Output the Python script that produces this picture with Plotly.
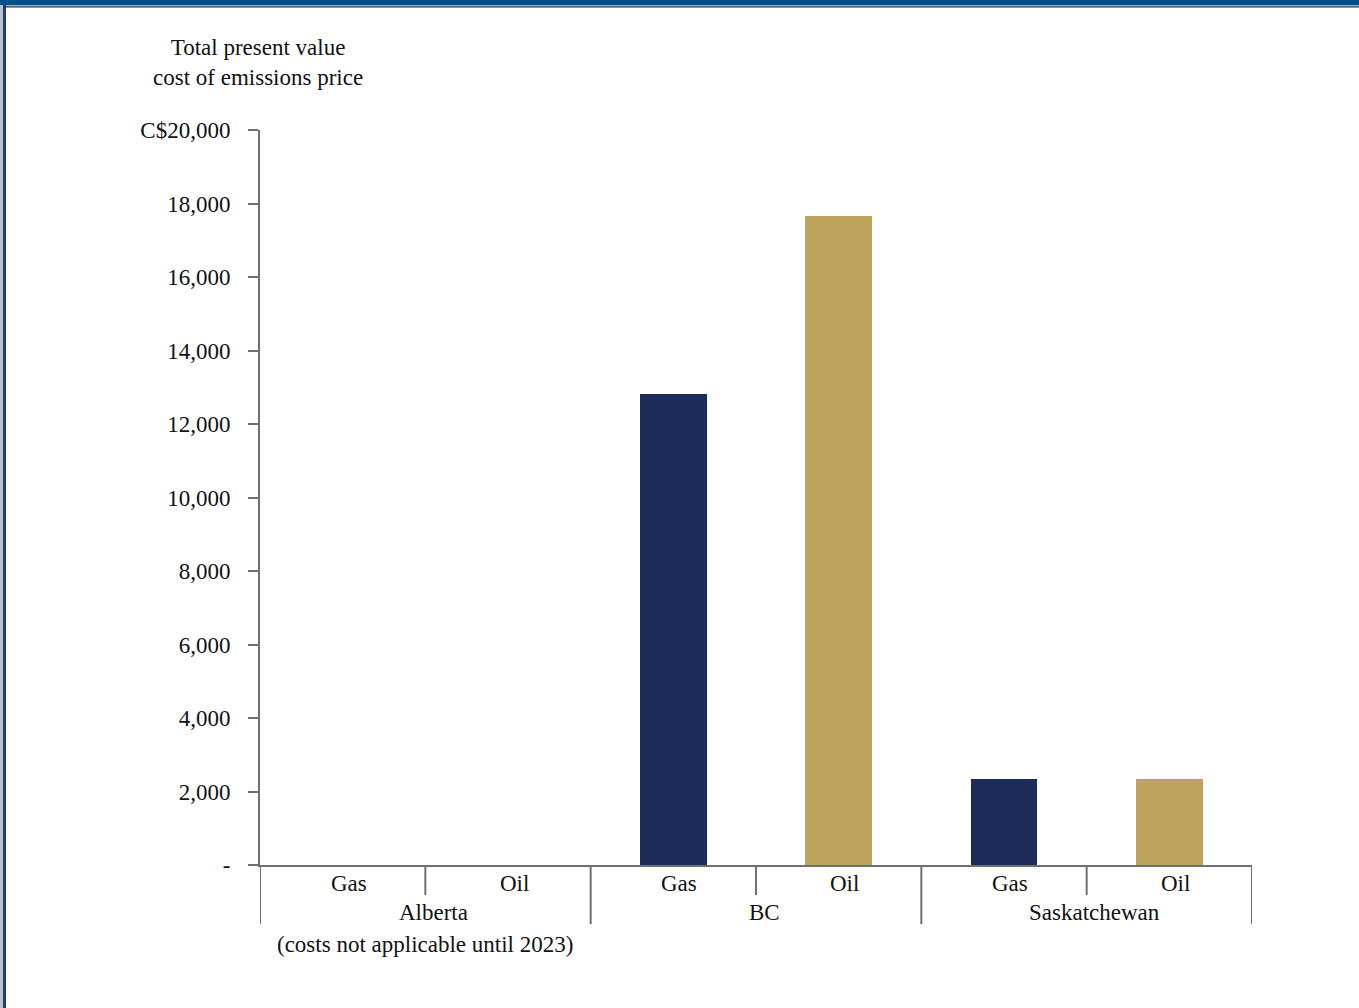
import plotly.graph_objects as go

# Data
provinces = ["Alberta", "BC", "Saskatchewan"]
fuels = ["Gas", "Oil"]
gas_values = [0, 12830, 2340]
oil_values = [0, 17660, 2340]
y_tickvals = [0, 2000, 4000, 6000, 8000, 10000, 12000, 14000, 16000, 18000, 20000]
y_ticktext = ["-", "2,000", "4,000", "6,000", "8,000", "10,000", "12,000",
              "14,000", "16,000", "18,000", "C$20,000"]
title_text = "Total present value<br>cost of emissions price"
note_text = "(costs not applicable until 2023)"

NAVY = "#1B2C5A"
GOLD = "#BDA35C"
AXIS = "#707070"
FONT = "Liberation Serif"
FS = 23
TXT = "#111111"

W, H = 1359, 1008
L, R, T, B = 260, 107, 130, 143
PW, PH = W - L - R, H - T - B


def px_x(px):
    return (px - L) / PW


def px_y(py):
    return (H - B - py) / PH


# one slot per province/fuel pair
gas_x = [2 * i for i in range(len(provinces))]
oil_x = [2 * i + 1 for i in range(len(provinces))]

fig = go.Figure()
fig.add_trace(go.Bar(x=gas_x, y=gas_values, marker_color=NAVY, width=0.405,
                     marker_line_width=0, name="Gas", showlegend=False))
fig.add_trace(go.Bar(x=oil_x, y=oil_values, marker_color=GOLD, width=0.405,
                     marker_line_width=0, name="Oil", showlegend=False))

shapes = []
# short dividers between fuels, long dividers between provinces
for i in range(len(provinces)):
    shapes.append(dict(type="line", xref="x", yref="paper",
                       x0=2 * i + 0.5, x1=2 * i + 0.5,
                       y0=0, y1=px_y(895), line=dict(color=AXIS, width=2)))
for k in range(len(provinces) + 1):
    shapes.append(dict(type="line", xref="x", yref="paper",
                       x0=2 * k - 0.5, x1=2 * k - 0.5,
                       y0=0, y1=px_y(924), line=dict(color=AXIS, width=2)))

# page frame: blue band on top, rule on the left
shapes.append(dict(type="rect", xref="paper", yref="paper",
                   x0=px_x(0), x1=px_x(W), y0=px_y(0), y1=px_y(5.5),
                   fillcolor="#03508B", line=dict(width=0), layer="above"))
shapes.append(dict(type="rect", xref="paper", yref="paper",
                   x0=px_x(0), x1=px_x(W), y0=px_y(5.5), y1=px_y(6.3),
                   fillcolor="#A9B9CA", line=dict(width=0), layer="above"))
shapes.append(dict(type="rect", xref="paper", yref="paper",
                   x0=px_x(0), x1=px_x(W), y0=px_y(6.3), y1=px_y(7.5),
                   fillcolor="#1E3550", line=dict(width=0), layer="above"))
shapes.append(dict(type="rect", xref="paper", yref="paper",
                   x0=px_x(0), x1=px_x(3), y0=px_y(H), y1=px_y(5),
                   fillcolor="#B8C3CE", line=dict(width=0), layer="above"))
shapes.append(dict(type="rect", xref="paper", yref="paper",
                   x0=px_x(3), x1=px_x(6), y0=px_y(H), y1=px_y(5),
                   fillcolor="#1C3F73", line=dict(width=0), layer="above"))

annotations = []
# fuel labels directly under each slot
for xs, f in ((gas_x, fuels[0]), (oil_x, fuels[1])):
    for xv in xs:
        annotations.append(dict(text=f, x=xv, xref="x", y=px_y(883),
                                yref="paper", showarrow=False, xshift=6,
                                xanchor="center", yanchor="middle",
                                font=dict(family=FONT, size=FS, color=TXT)))
# province labels on the second row
for i, p in enumerate(provinces):
    annotations.append(dict(text=p, x=2 * i + 0.5, xref="x", y=px_y(912),
                            yref="paper", showarrow=False, xshift=8,
                            xanchor="center", yanchor="middle",
                            font=dict(family=FONT, size=FS, color=TXT)))
annotations.append(dict(text=note_text, x=0.5, xref="x", y=px_y(945),
                        yref="paper", showarrow=False, xanchor="center",
                        yanchor="middle",
                        font=dict(family=FONT, size=FS, color=TXT)))
annotations.append(dict(text=title_text, x=px_x(258), xref="paper",
                        y=px_y(63), yref="paper", showarrow=False,
                        xanchor="center", yanchor="middle", align="center",
                        font=dict(family=FONT, size=FS, color=TXT)))

fig.update_layout(
    width=W, height=H,
    margin=dict(l=L, r=R, t=T, b=B, autoexpand=False),
    paper_bgcolor="white", plot_bgcolor="white",
    bargap=0, barmode="overlay",
    font=dict(family=FONT, size=FS, color=TXT),
    shapes=shapes, annotations=annotations,
    xaxis=dict(range=[-0.5, 5.5], showticklabels=False,
               ticks="", showgrid=False, zeroline=False,
               showline=True, linecolor=AXIS, linewidth=2, fixedrange=True),
    yaxis=dict(range=[0, 20000], tickmode="array", tickvals=y_tickvals,
               ticktext=y_ticktext, ticks="outside", ticklen=10,
               tickcolor=AXIS, tickwidth=2, showgrid=False, zeroline=False,
               showline=True, linecolor=AXIS, linewidth=2,
               ticklabelstandoff=13, fixedrange=True),
)

fig.write_html("out.html")
